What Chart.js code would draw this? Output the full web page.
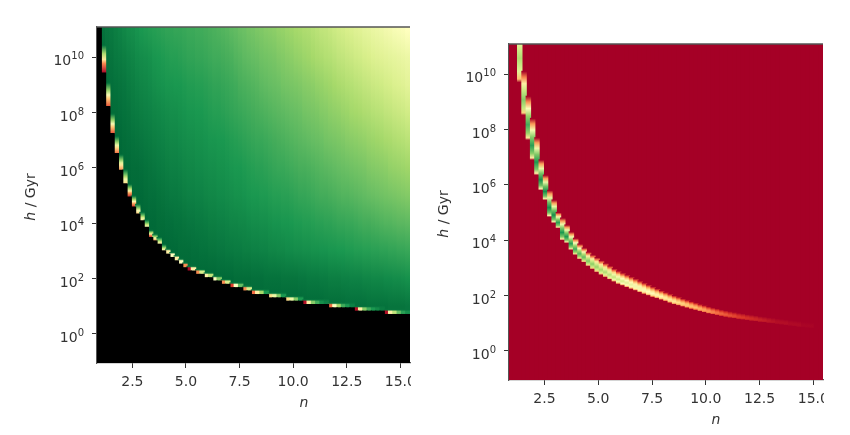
<!DOCTYPE html>
<html>
<head>
<meta charset="utf-8">
<style>
  body { margin: 0; background: #fff; }
  canvas { position: absolute; top: 0; filter: blur(0.6px); }
  #left-panel { left: 0; }
  #right-panel { left: 425px; }
</style>
<script src="https://cdn.jsdelivr.net/npm/chart.js@4/dist/chart.umd.min.js"></script>
</head>
<body>
<canvas id="left-panel" width="411" height="435"></canvas>
<canvas id="right-panel" width="399" height="435"></canvas>
<script>
// column centres of the grid
const nValues = [
  0.95,1.15,1.35,1.55,1.75,1.95,2.15,2.35,2.55,2.75,2.95,3.15,3.35,3.55,3.75,3.95,4.15,4.35,4.55,4.75,
  4.95,5.15,5.35,5.55,5.75,5.95,6.15,6.35,6.55,6.75,6.95,7.15,7.35,7.55,7.75,7.95,8.15,8.35,8.55,8.75,
  8.95,9.15,9.35,9.55,9.75,9.95,10.15,10.35,10.55,10.75,10.95,11.15,11.35,11.55,11.75,11.95,12.15,12.35,
  12.55,12.75,12.95,13.15,13.35,13.55,13.75,13.95,14.15,14.35,14.55,14.75,14.95,15.15,15.35];

const xTicks = [2.5, 5, 7.5, 10, 12.5, 15];
const xTickLabels = ['2.5', '5.0', '7.5', '10.0', '12.5', '15.0'];
const yTicks = [1, 1e2, 1e4, 1e6, 1e8, 1e10];
const yTickExponents = ['0', '2', '4', '6', '8', '10'];

// left panel: lightness of the green field per column, one list per decade of h
// (0 = darkest green, 100 = palest yellow)
const fieldDecade1 = [0,0,0,0,0,0,0,0,0,0,0,0,0,0,0,0,0,0,0,0,0,0,0,0,0,0,0,0,0,0,0,0,0,0,0,0,0,0,0,0,0,0,0,0,0,
  0,0,0,1,1,1,1,1,2,2,2,2,2,3,3,3,3,3,4,4,4,4,4,5,5,5,5,6];
const fieldDecade2 = [0,0,0,0,0,0,0,0,0,0,0,0,0,0,0,0,0,0,0,0,0,0,0,0,0,
  0,0,0,1,1,1,1,2,2,2,2,3,3,3,4,4,4,4,5,5,5,5,6,6,7,7,7,8,8,9,9,9,10,10,11,11,11,12,12,13,13,13,14,14,15,15,16,17];
const fieldDecade3 = [0,0,0,0,0,0,0,0,0,0,0,0,0,0,0,
  0,0,1,1,2,2,2,3,3,4,4,5,5,6,6,7,7,8,8,9,9,10,10,11,11,12,12,13,13,14,14,15,15,16,16,17,17,18,18,19,19,20,20,21,21,22,22,23,23,24,24,25,25,26,26,27,27,28];
const fieldDecade4 = [0,0,0,0,0,0,0,0,0,0,0,0,1,1,2,
  2,3,3,4,4,5,6,6,7,7,8,9,9,10,10,11,12,12,13,13,14,15,15,16,16,17,18,18,19,19,20,21,21,22,22,23,24,24,25,25,26,27,27,28,28,29,30,31,31,32,33,34,35,35,36,37,37,38];
const fieldDecade5 = [0,0,0,0,0,0,0,0,1,1,1,2,3,3,4,
  5,6,7,7,8,9,10,10,11,11,12,13,13,14,14,15,16,17,17,18,19,20,20,21,21,22,23,23,24,24,25,26,27,27,28,29,30,31,31,32,33,34,35,35,36,37,38,39,40,41,42,43,44,45,46,47,48,49];
const fieldDecade6 = [0,0,0,0,0,0,1,1,2,2,3,4,5,6,7,
  8,9,10,10,11,12,13,13,14,14,15,16,16,17,17,18,19,20,20,21,22,23,24,24,25,26,27,28,28,29,30,31,32,32,33,34,35,36,37,38,39,40,41,42,43,44,45,46,48,49,50,51,52,54,55,56,57,58];
const fieldDecade7 = [0,0,0,1,1,1,2,3,4,5,6,7,8,9,10,
  11,12,13,13,14,15,16,16,17,17,18,19,19,20,20,21,22,23,24,25,26,27,28,28,29,30,31,32,33,34,35,36,37,38,39,40,41,42,44,45,46,47,48,50,51,52,53,54,56,57,58,59,61,62,64,65,66,68];
const fieldDecade8 = [0,0,1,2,2,3,4,5,7,8,9,10,11,12,13,
  14,15,16,16,17,18,19,19,20,20,21,22,23,23,24,25,26,27,28,29,30,31,32,33,34,35,36,37,38,39,40,41,42,44,45,46,47,49,50,52,53,54,56,57,59,60,61,63,64,66,67,68,70,71,73,74,75,77];
const fieldDecade9 = [0,1,2,3,4,5,6,8,9,11,12,13,14,16,17,
  18,19,19,20,20,21,22,22,23,23,24,25,26,26,27,28,29,30,32,33,34,35,36,38,39,40,41,42,44,45,46,47,48,50,51,52,54,55,57,58,60,62,63,65,66,68,69,71,72,74,75,76,78,79,81,82,83,85];
const fieldDecade10 = [1,2,4,5,7,8,9,11,12,14,15,16,17,19,20,
  21,22,23,23,24,25,26,26,27,27,28,29,30,30,31,32,33,35,36,38,39,40,41,43,44,45,46,48,49,51,52,54,55,57,58,60,62,63,65,66,68,70,71,73,74,76,77,79,80,82,83,84,85,86,87,88,89,90];
const fieldDecade11 = [2,4,6,7,9,11,13,15,16,18,20,21,22,23,24,
  25,26,26,27,27,28,29,29,30,30,31,32,33,34,35,36,38,39,41,42,44,45,47,48,50,51,52,54,55,57,58,60,61,63,64,66,68,70,71,73,75,77,78,80,81,83,84,86,87,89,90,91,93,94,96,97,98,100];

// left panel: log10 h where the black region ends in each column
const leftEdge = [11.3,
  9.42,8.21,7.24,6.52,5.91,5.42,4.94,4.58,4.33,4.09,
  3.85,3.48,3.36,3.24,3.00,2.88,2.76,2.64,2.52,2.39,
  2.27,2.27,2.15,2.15,2.03,2.03,1.91,1.91,1.79,1.79,
  1.67,1.67,1.67,1.55,1.55,1.42,1.42,1.42,1.42,1.30,
  1.30,1.30,1.30,1.18,1.18,1.18,1.18,1.06,1.06,1.06,
  1.06,1.06,1.06,0.94,0.94,0.94,0.94,0.94,0.94,0.82,
  0.82,0.82,0.82,0.82,0.82,0.82,0.70,0.70,0.70,0.70,
  0.70,0.70];
// colour value (percent) of the first cell above the edge
const leftEdgeStart = [0,
  0,15,15,20,25,40,6,8,35,45,
  50,3,25,45,45,45,50,45,50,25,
  2,45,25,60,45,65,50,75,25,60,
  12,50,80,25,60,20,45,70,90,40,
  55,75,90,40,55,75,90,3,45,75,
  85,92,95,20,50,70,85,90,95,3,
  45,75,85,90,93,96,3,45,65,80,
  88,92];
// how many decades the rise to green takes
const leftEdgeRise = [0,
  1.0,.85,.7,.6,.55,.5,.45,.4,.35,.3,
  .26,.26,.24,.24,.22,.18,.18,.18,.18,.17,
  .17,.17,.17,.17,.17,.17,.17,.17,.17,.17,
  .17,.17,.17,.17,.17,.17,.17,.17,.17,.17,
  .17,.17,.17,.17,.17,.17,.17,.17,.17,.17,
  .17,.17,.17,.17,.17,.17,.17,.17,.17,.17,
  .17,.17,.17,.17,.17,.17,.17,.17,.17,.17,
  .17,.17];

// right panel: the bright ridge per column, log10 h of its lower and upper limit and peak colour value
const rightLow = [11.5,11.5,
  9.7,8.52,7.62,6.9,6.35,5.8,5.45,4.84,4.62,4.44,
  4.0,3.9,3.65,3.47,3.32,3.21,3.07,2.96,2.85,2.75,
  2.67,2.58,2.5,2.42,2.36,2.3,2.24,2.18,2.12,2.06,
  2.0,1.95,1.9,1.85,1.8,1.74,1.68,1.64,1.6,1.56,
  1.52,1.48,1.43,1.39,1.35,1.32,1.29,1.26,1.23,1.2,
  1.18,1.15,1.13,1.11,1.09,1.07,1.05,1.03,1.01,.99,
  .97,.95,.93,.91,.89,.87,.85,.84,.83,.82,.81];
const rightHigh = [11.5,11.5,
  12.2,10.1,9.2,8.4,7.7,6.9,6.35,5.8,5.45,5.0,
  4.8,4.55,4.3,4.07,3.86,3.72,3.57,3.47,3.37,3.27,
  3.17,3.07,2.97,2.89,2.82,2.75,2.68,2.61,2.53,2.46,
  2.39,2.32,2.25,2.18,2.12,2.06,2.0,1.95,1.89,1.84,
  1.79,1.74,1.69,1.65,1.6,1.56,1.53,1.49,1.46,1.43,
  1.4,1.37,1.35,1.32,1.3,1.28,1.25,1.23,1.21,1.19,
  1.17,1.15,1.13,1.11,1.09,1.07,1.05,1.03,1.01,.99,.97];
const rightPeak = [0,0,
  68,75,85,88,90,92,92,92,92,88,
  90,90,88,85,82,80,76,74,72,70,
  68,66,64,62,60,58,56,54,54,52,
  50,49,47,47,45,44,43,40,38,36,
  34,33,31,29,27,24,21,19,17,15,
  14,12,11,10,9,8,7,6,5,4,
  3,3,3,2,2,2,1,1,1,0,0];

const xMin = 0.85, xMax = 15.45;
const yMinLog = -1.05, yMaxLog = 11.09;

// RdYlGn
const palette = [[165,0,38],[215,48,39],[244,109,67],[253,174,97],[254,224,139],[255,255,191],
  [217,239,139],[166,217,106],[102,189,99],[26,152,80],[0,104,55]];

function colourOf(v) {
  const t = Math.min(Math.max(v, 0), 1) * 10;
  const i = Math.min(Math.floor(t), 9);
  const f = t - i;
  const c = palette[i].map((p, j) => Math.round(p + (palette[i + 1][j] - p) * f));
  return `rgb(${c[0]},${c[1]},${c[2]})`;
}

const pow10 = v => Math.pow(10, v);
const fieldRows = [fieldDecade1, fieldDecade2, fieldDecade3, fieldDecade4, fieldDecade5, fieldDecade6,
  fieldDecade7, fieldDecade8, fieldDecade9, fieldDecade10, fieldDecade11];

function yGradient(chart, fromLog, toLog) {
  const y = chart.scales.y;
  return chart.ctx.createLinearGradient(0, y.getPixelForValue(pow10(fromLog)), 0, y.getPixelForValue(pow10(toLog)));
}

function fieldFill(ctx) {
  if (!ctx.chart.chartArea) return '#000';
  const g = yGradient(ctx.chart, 1, 11);
  fieldRows.forEach((row, i) => g.addColorStop(i / 10, colourOf(1 - row[ctx.dataIndex] / 200)));
  return g;
}

function edgeFill(ctx) {
  if (!ctx.chart.chartArea) return '#000';
  const k = ctx.dataIndex;
  const g = yGradient(ctx.chart, leftEdge[k], leftEdge[k] + leftEdgeRise[k]);
  const start = leftEdgeStart[k] / 100;
  if (leftEdgeRise[k] < 0.2) {
    // a single cell: hold its colour
    g.addColorStop(0, colourOf(start));
    g.addColorStop(0.7, colourOf(start));
  } else {
    g.addColorStop(0, colourOf(start));
    g.addColorStop(0.35, colourOf(start + (0.97 - start) * 0.25));
    g.addColorStop(0.5, colourOf(start + (0.97 - start) * 0.45));
    g.addColorStop(0.7, colourOf(start + (0.97 - start) * 0.7));
  }
  g.addColorStop(1, colourOf(0.97));
  return g;
}

function ridgeFill(ctx) {
  if (!ctx.chart.chartArea) return '#a50026';
  const k = ctx.dataIndex;
  const g = yGradient(ctx.chart, rightLow[k], rightHigh[k]);
  const peak = rightPeak[k] / 100;
  [[0, 0], [0.05, 0.5], [0.16, 0.85], [0.35, 1], [0.55, 0.85], [0.72, 0.6], [0.87, 0.3], [1, 0]].forEach(s => {
    g.addColorStop(s[0], colourOf(peak * s[1]));
  });
  return g;
}

function barSet(lows, highs, fill) {
  return {
    data: nValues.map((n, k) => ({ x: n, y: [pow10(lows[k]), pow10(highs[k])] })),
    backgroundColor: fill,
    borderWidth: 0,
    inflateAmount: 0.6,
    grouped: false,
    barPercentage: 1,
    categoryPercentage: 1
  };
}

// spine on top, y tick labels with raised exponents, and the axis titles
// (the originals sit off centre because the axes were cut off on the right)
const framePlugin = {
  id: 'frame',
  afterDraw(chart, args, opts) {
    const c = chart.ctx, a = chart.chartArea, y = chart.scales.y;
    c.save();
    c.strokeStyle = '#555';
    c.lineWidth = 1.4;
    c.beginPath();
    c.moveTo(a.left, a.top);
    c.lineTo(a.right, a.top);
    c.stroke();

    c.fillStyle = '#333';
    c.textBaseline = 'alphabetic';
    c.textAlign = 'left';
    yTicks.forEach((v, i) => {
      const py = y.getPixelForValue(v);
      c.font = '10px "DejaVu Sans"';
      const ew = c.measureText(yTickExponents[i]).width;
      c.fillText(yTickExponents[i], a.left - 13 - ew, py + 2);
      c.font = '14px "DejaVu Sans"';
      const bw = c.measureText('10').width;
      c.fillText('10', a.left - 13 - ew - bw, py + 8);
    });

    c.textAlign = 'center';
    c.textBaseline = 'middle';
    c.font = 'italic 14px "DejaVu Sans"';
    c.fillText('n', a.left + 207, a.bottom + 40);

    c.textAlign = 'left';
    c.translate(opts.titleX, (a.top + a.bottom) / 2 + 2);
    c.rotate(-Math.PI / 2);
    const w1 = c.measureText('h').width;
    c.font = '14px "DejaVu Sans"';
    const w2 = c.measureText(' / Gyr').width;
    c.font = 'italic 14px "DejaVu Sans"';
    c.fillText('h', -(w1 + w2) / 2, 0);
    c.font = '14px "DejaVu Sans"';
    c.fillText(' / Gyr', -(w1 + w2) / 2 + w1, 0);
    c.restore();
  }
};

function makePanel(id, datasets, axisWidth, top, bottom, titleX) {
  return new Chart(document.getElementById(id), {
    type: 'bar',
    data: { datasets: datasets },
    plugins: [framePlugin],
    options: {
      responsive: false,
      animation: false,
      layout: { autoPadding: false, padding: { left: 0, right: 1, top: top, bottom: bottom } },
      plugins: { legend: { display: false }, tooltip: { enabled: false }, frame: { titleX: titleX } },
      scales: {
        x: {
          type: 'linear',
          offset: false,
          min: xMin,
          max: xMax,
          afterBuildTicks: s => { s.ticks = xTicks.map(v => ({ value: v })); },
          afterFit: s => { s.height = 50; s.paddingLeft = 0; s.paddingRight = 0; },
          grid: { offset: false, drawOnChartArea: false, tickLength: 5, color: '#333' },
          border: { color: '#555', width: 1.2 },
          ticks: {
            autoSkip: false, maxRotation: 0, padding: 6, color: '#333',
            font: { family: 'DejaVu Sans', size: 14 },
            callback: (v, i) => xTickLabels[i]
          }
        },
        y: {
          type: 'logarithmic',
          min: pow10(yMinLog),
          max: pow10(yMaxLog),
          afterBuildTicks: s => { s.ticks = yTicks.map(v => ({ value: v })); },
          afterFit: s => { s.width = axisWidth; s.paddingTop = 0; s.paddingBottom = 0; },
          grid: { drawOnChartArea: false, tickLength: 5, color: '#333' },
          border: { color: '#555', width: 1.2 },
          ticks: { display: false }
        }
      }
    }
  });
}

const floorLine = nValues.map(() => yMinLog);
const ceilLine = nValues.map(() => yMaxLog);

// the first dataset is painted last
makePanel('left-panel', [
  barSet(floorLine, leftEdge, '#000'),
  barSet(leftEdge, leftEdge.map((e, k) => e + leftEdgeRise[k]), edgeFill),
  barSet(leftEdge, nValues.map(() => 11.3), fieldFill)
], 97, 27, 22, 31);

makePanel('right-panel', [
  barSet(rightLow, rightHigh, ridgeFill),
  barSet(floorLine, ceilLine, '#a50026')
], 84, 44, 5, 19);
</script>
</body>
</html>
